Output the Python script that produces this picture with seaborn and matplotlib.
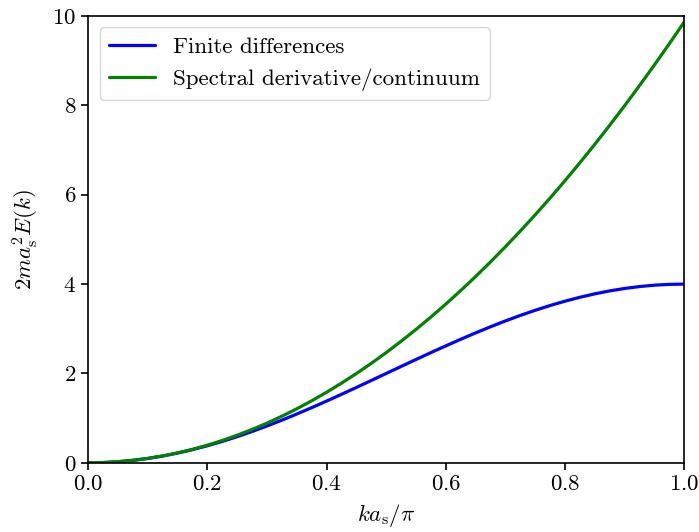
import matplotlib
matplotlib.use("Agg")
import matplotlib.pyplot as plt
import seaborn as sns
import pandas as pd

x_vals = [0.0, 0.025, 0.05, 0.075, 0.1, 0.125, 0.15, 0.175, 0.2, 0.225,
          0.25, 0.275, 0.3, 0.325, 0.35, 0.375, 0.4, 0.425, 0.45, 0.475,
          0.5, 0.525, 0.55, 0.575, 0.6, 0.625, 0.65, 0.675, 0.7, 0.725,
          0.75, 0.775, 0.8, 0.825, 0.85, 0.875, 0.9, 0.925, 0.95, 0.975, 1.0]
finite_diff = [0.0, 0.0062, 0.0246, 0.0553, 0.0979, 0.1522, 0.2180, 0.2947,
               0.3820, 0.4792, 0.5858, 0.7011, 0.8244, 0.9550, 1.0920, 1.2346,
               1.3820, 1.5331, 1.6871, 1.8431, 2.0, 2.1569, 2.3129, 2.4669,
               2.6180, 2.7654, 2.9080, 3.0450, 3.1756, 3.2989, 3.4142, 3.5208,
               3.6180, 3.7053, 3.7820, 3.8478, 3.9021, 3.9447, 3.9754, 3.9938,
               4.0]
spectral = [0.0, 0.0062, 0.0247, 0.0555, 0.0987, 0.1542, 0.2221, 0.3023,
            0.3948, 0.4996, 0.6169, 0.7464, 0.8883, 1.0425, 1.2090, 1.3879,
            1.5791, 1.7827, 1.9986, 2.2268, 2.4674, 2.7203, 2.9855, 3.2631,
            3.5531, 3.8553, 4.1699, 4.4968, 4.8361, 5.1877, 5.5517, 5.9279,
            6.3165, 6.7174, 7.1308, 7.5564, 7.9944, 8.4446, 8.9073, 9.3822,
            9.8696]
series_names = ["Finite differences", "Spectral derivative/continuum"]
colors = ["#0000ff", "#008000"]

sns.set_style("ticks")
plt.rcParams["font.family"] = "serif"
plt.rcParams["font.serif"] = ["cmr10"]
plt.rcParams["mathtext.fontset"] = "cm"
plt.rcParams["axes.formatter.use_mathtext"] = True
plt.rcParams["axes.unicode_minus"] = False
plt.rcParams["text.color"] = "black"
plt.rcParams["axes.labelcolor"] = "black"
plt.rcParams["xtick.color"] = "black"
plt.rcParams["ytick.color"] = "black"

df = pd.DataFrame({
    "x": x_vals * 2,
    "y": finite_diff + spectral,
    "series": [series_names[0]] * len(x_vals) + [series_names[1]] * len(x_vals),
})

fig = plt.figure(figsize=(6.99, 5.32), dpi=100)
ax = fig.add_axes([0.126, 0.13, 0.853, 0.84])
sns.lineplot(data=df, x="x", y="y", hue="series", palette=colors,
             linewidth=2.3, ax=ax)
ax.set_xlim(0, 1)
ax.set_ylim(0, 10)
ax.set_xlabel(r"$ka_\mathrm{s}/\pi$", fontsize=16.5, labelpad=6)
ax.set_ylabel(r"$2ma_\mathrm{s}^2E(k)$", fontsize=16.5, labelpad=8)
ax.tick_params(labelsize=16.5, width=1.2, length=5, colors="black")
for s in ax.spines.values():
    s.set_linewidth(1.2)
    s.set_color("black")
leg = ax.legend(loc="upper left", fontsize=16.6, frameon=True, fancybox=True,
                handlelength=2.0)
leg.get_frame().set_edgecolor("#cccccc")
for t in leg.get_texts():
    t.set_color("black")
fig.savefig("out.png", dpi=100)
